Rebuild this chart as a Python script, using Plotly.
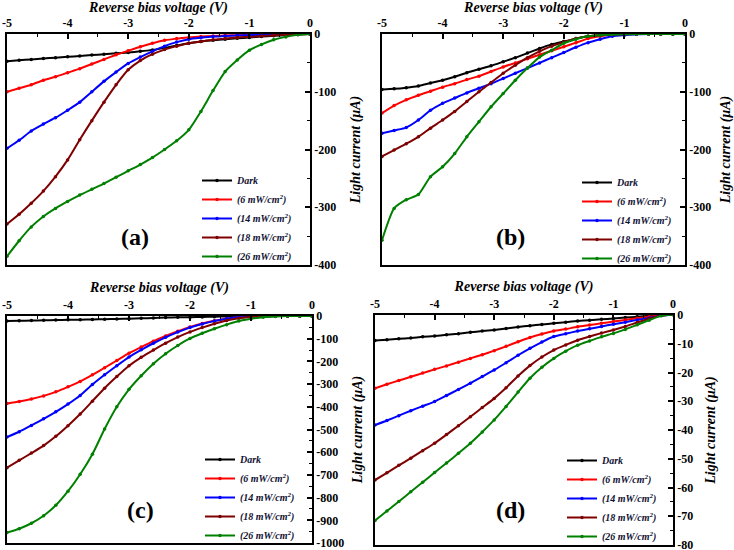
import plotly.graph_objects as go

# ---------------- data ----------------
V = [-5.0, -4.8, -4.6, -4.4, -4.2, -4.0, -3.8, -3.6, -3.4, -3.2, -3.0, -2.8, -2.6,
     -2.4, -2.2, -2.0, -1.8, -1.6, -1.4, -1.2, -1.0, -0.8, -0.6, -0.4, -0.2, 0.0]

SERIES = ["Dark", "(6 mW/cm<sup>2</sup>)", "(14 mW/cm<sup>2</sup>)",
          "(18 mW/cm<sup>2</sup>)", "(26 mW/cm<sup>2</sup>)"]
COLORS = ["#000000", "#ff0000", "#0000ff", "#7f0000", "#008000"]

# panel (a)
a_dark = [-47, -45.5, -44, -42.5, -41, -39.5, -38, -36.5, -35, -33.5, -32, -30, -27.5,
          -24, -20, -16, -13, -11, -9, -7.5, -6, -4.5, -3, -2, -1, 0]
a_6 = [-100, -94, -88, -80, -74, -67, -60, -52, -44, -36, -29, -22, -16,
       -11, -8, -6, -4.5, -3.5, -2.5, -2, -1.5, -1, -0.6, -0.3, -0.1, 0]
a_14 = [-198, -184, -168, -156, -145, -132, -118, -100, -82, -66, -51, -40, -30,
        -21, -14, -9, -6.5, -4.5, -3.5, -2.5, -2, -1.2, -0.7, -0.4, -0.1, 0]
a_18 = [-329, -312, -293, -272, -247, -218, -183, -150, -118, -88, -62, -46, -35,
        -27, -21, -16, -13, -10, -8, -6, -5, -3.5, -2.2, -1.2, -0.5, 0]
a_26 = [-385, -358, -334, -316, -302, -290, -279, -269, -259, -248, -237, -226, -214,
        -200, -185, -166, -134, -98, -65, -45, -28, -18, -10, -5, -1.5, 0]

# panel (b)
b_dark = [-96, -95, -93, -90, -85, -80, -74, -67, -61, -55, -48, -41, -33,
          -25, -18, -13, -8, -4, -2, -1, -0.5, 0, 0, 0, 0, 0]
b_6 = [-137, -124, -114, -106, -99, -92, -86, -79, -73, -65, -57, -50, -43,
       -36, -29, -22, -15, -8, -4, -1.5, -0.5, 0, 0, 0, 0, 0]
b_14 = [-172, -167, -162, -149, -132, -120, -111, -102, -94, -86, -77, -68, -59,
        -50, -41, -32, -23, -15, -9, -4, -2, -0.5, 0, 0, 0, 0]
b_18 = [-212, -201, -190, -178, -163, -149, -134, -117, -100, -84, -68, -54, -41,
        -30, -21, -14, -8, -4, -2, -1, 0, 0, 0, 0, 0, 0]
b_26 = [-357, -302, -287, -278, -247, -230, -207, -178, -152, -126, -103, -80, -59,
        -40, -28, -16, -9, -4, -2, -1, -0.5, 0, 0, 0, 0, 0]

# panel (c)
c_dark = [-22, -21, -20, -19, -18, -17, -16, -15, -14, -13, -12, -10, -9,
          -7, -6, -5, -4, -3, -2, -1.5, -1, -0.5, 0, 0, 0, 0]
c_6 = [-386, -377, -366, -352, -334, -312, -288, -259, -228, -196, -164, -137, -111,
       -88, -67, -48, -33, -21, -12, -6, -3, -1, -0.3, 0, 0, 0]
c_14 = [-533, -510, -482, -453, -422, -388, -350, -302, -259, -219, -181, -149, -120,
        -94, -71, -51, -35, -22, -12, -6, -3, -1, -0.3, 0, 0, 0]
c_18 = [-668, -636, -604, -571, -530, -483, -432, -375, -318, -267, -219, -182, -150,
        -120, -93, -70, -51, -34, -20, -10, -4, -1.5, -0.5, 0, 0, 0]
c_26 = [-954, -937, -913, -880, -834, -772, -697, -609, -498, -400, -323, -263, -210,
        -166, -130, -99, -76, -56, -38, -22, -12, -5, -2, -0.5, 0, 0]

# panel (d)
d_dark = [-8.9, -8.6, -8.3, -8.0, -7.6, -7.3, -6.9, -6.5, -6.0, -5.6, -5.2, -4.7, -4.2,
          -3.7, -3.3, -2.9, -2.5, -2.1, -1.8, -1.5, -1.2, -0.9, -0.6, -0.3, 0, 0.3]
d_6 = [-25.5, -24.1, -22.8, -21.5, -20.2, -18.9, -17.7, -16.4, -15.1, -13.8, -12.4, -10.9, -9.3,
       -7.8, -6.6, -5.6, -4.9, -4.1, -3.5, -2.9, -2.3, -1.7, -1.1, -0.6, -0.1, 0.2]
d_14 = [-38.3, -36.7, -35.0, -33.3, -31.7, -30.1, -28.0, -25.9, -23.7, -21.4, -19.1, -16.6, -14.0,
        -11.6, -9.4, -7.5, -6.5, -5.6, -4.8, -4.0, -3.2, -2.5, -1.7, -1.0, -0.2, 0.2]
d_18 = [-57.4, -54.9, -52.3, -49.8, -47.2, -44.6, -41.6, -38.5, -35.4, -32.2, -29.0, -25.3, -21.2,
        -17.6, -14.6, -12.2, -10.4, -8.8, -7.5, -6.3, -5.2, -4.0, -2.6, -1.3, -0.2, 0.2]
d_26 = [-71.5, -68.2, -64.9, -61.5, -58.2, -54.8, -51.5, -48.1, -44.6, -40.7, -36.5, -31.8, -26.8,
        -22.0, -18.2, -15.1, -12.6, -10.5, -9.0, -7.6, -6.4, -5.0, -3.4, -1.8, -0.3, 0.2]

X_TICKS = [-5, -4, -3, -2, -1, 0]
X_TICKTEXT = ["-5", "-4", "-3", "-2", "-1", "0"]
Y_TICKS_AB = [0, -100, -200, -300, -400]
Y_TICKTEXT_AB = ["0", "-100", "-200", "-300", "-400"]
Y_TICKS_C = [0, -100, -200, -300, -400, -500, -600, -700, -800, -900, -1000]
Y_TICKTEXT_C = ["0", "-100", "-200", "-300", "-400", "-500", "-600", "-700", "-800", "-900", "-1000"]
Y_TICKS_D = [0, -10, -20, -30, -40, -50, -60, -70, -80]
Y_TICKTEXT_D = ["0", "-10", "-20", "-30", "-40", "-50", "-60", "-70", "-80"]

PANEL_LABELS = ["(a)", "(b)", "(c)", "(d)"]
X_TITLE = "Reverse bias voltage (V)"
Y_TITLE = "Light current (\u03bcA)"

# ---------------- figure ----------------
FONT = "Liberation Serif"
panels = [
    dict(data=[a_dark, a_6, a_14, a_18, a_26], xd=[7/734, 310/734], yd=[1-265/550, 1-34/550],
         yr=[-400, 0], yt=Y_TICKS_AB, ytt=Y_TICKTEXT_AB, ym=50, leg=(197/734, 1-166/550),
         lab=(135/734, 1-237/550), ys=15),
    dict(data=[b_dark, b_6, b_14, b_18, b_26], xd=[382/734, 685/734], yd=[1-265/550, 1-34/550],
         yr=[-400, 0], yt=Y_TICKS_AB, ytt=Y_TICKTEXT_AB, ym=50, leg=(577/734, 1-168/550),
         lab=(510/734, 1-237/550), ys=22),
    dict(data=[c_dark, c_6, c_14, c_18, c_26], xd=[7/734, 312/734], yd=[1-543/550, 1-316/550],
         yr=[-1000, 0], yt=Y_TICKS_C, ytt=Y_TICKTEXT_C, ym=50, leg=(200/734, 1-445/550),
         lab=(140/734, 1-510/550), ys=9),
    dict(data=[d_dark, d_6, d_14, d_18, d_26], xd=[375/734, 673/734], yd=[1-545/550, 1-315/550],
         yr=[-80, 0], yt=Y_TICKS_D, ytt=Y_TICKTEXT_D, ym=5, leg=(562/734, 1-446/550),
         lab=(510/734, 1-510/550), ys=13),
]

fig = go.Figure()
layout = dict(width=734, height=550, margin=dict(l=0, r=0, t=0, b=0, autoexpand=False),
              paper_bgcolor="white", plot_bgcolor="white", showlegend=True,
              font=dict(family=FONT, color="black"))
annotations = []

for i, p in enumerate(panels):
    n = "" if i == 0 else str(i + 1)
    legname = "legend" + n
    for k, ys in enumerate(p["data"]):
        fig.add_trace(go.Scatter(
            x=V, y=ys, mode="lines+markers", name=SERIES[k],
            line=dict(color=COLORS[k], width=2, shape="spline", smoothing=0.6),
            marker=dict(color=COLORS[k], size=3.5),
            xaxis="x" + n, yaxis="y" + n, legend=legname))
    layout["xaxis" + n] = dict(
        domain=p["xd"], anchor="y" + n, side="top", range=[-5, 0],
        tickmode="array", tickvals=X_TICKS, ticktext=X_TICKTEXT,
        ticks="inside", ticklen=5, tickwidth=1.5, tickcolor="black",
        minor=dict(ticks="inside", ticklen=3, tickwidth=1.2, dtick=0.5, tick0=0, tickcolor="black"),
        showline=True, linewidth=1.6, linecolor="black", mirror=True,
        showgrid=False, zeroline=False, automargin=False, ticklabeloverflow="allow",
        tickfont=dict(family=FONT, size=12, weight="bold", color="black"),
        title=dict(text=X_TITLE, standoff=3,
                   font=dict(family=FONT, size=14, weight="bold", style="italic", color="black")))
    layout["yaxis" + n] = dict(
        domain=p["yd"], anchor="x" + n, side="right", range=p["yr"],
        tickmode="array", tickvals=p["yt"], ticktext=p["ytt"],
        ticks="inside", ticklen=5, tickwidth=1.5, tickcolor="black",
        minor=dict(ticks="inside", ticklen=3, tickwidth=1.2, dtick=p["ym"], tick0=0, tickcolor="black"),
        showline=True, linewidth=1.6, linecolor="black", mirror=True,
        showgrid=False, zeroline=False, automargin=False, ticklabeloverflow="allow",
        tickfont=dict(family=FONT, size=12, weight="bold", color="black"),
        title=dict(text=Y_TITLE, standoff=p["ys"],
                   font=dict(family=FONT, size=14, weight="bold", style="italic", color="black")))
    layout[legname] = dict(
        x=p["leg"][0], y=p["leg"][1], xanchor="left", yanchor="top",
        bgcolor="rgba(0,0,0,0)", borderwidth=0, itemwidth=30,
        font=dict(family=FONT, size=10, weight="bold", style="italic", color="#111133"),
        tracegroupgap=0)
    annotations.append(dict(
        text=PANEL_LABELS[i], x=p["lab"][0], y=p["lab"][1], xref="paper", yref="paper",
        xanchor="center", yanchor="middle", showarrow=False,
        font=dict(family=FONT, size=24, weight="bold", color="black")))

layout["annotations"] = annotations
fig.update_layout(**layout)
fig.write_html("out.html")
